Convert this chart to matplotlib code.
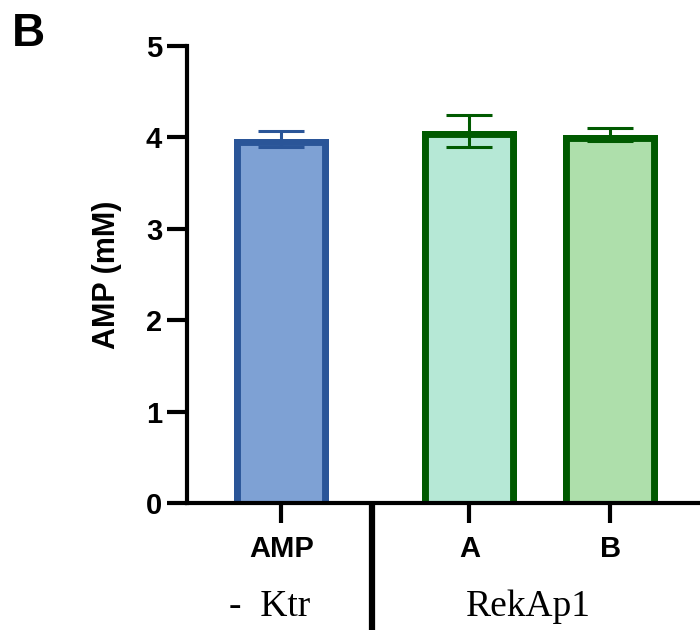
import matplotlib
matplotlib.use("Agg")
import matplotlib.pyplot as plt
import matplotlib.patches as mpatches
import matplotlib.transforms as mtransforms

# data
labels = ["AMP", "A", "B"]
means = [3.98, 4.07, 4.03]
errs = [0.09, 0.18, 0.07]
groups = ["-  Ktr", "RekAp1"]

# styling
positions = [1.07, 3.21, 4.81]
fills = ["#7ea1d4", "#b6e8d6", "#aedfab"]
edges = ["#2a5598", "#005a00", "#005a00"]
bar_w = 1.08

plt.rcParams['font.family'] = ['Liberation Sans', 'DejaVu Sans']
plt.rcParams['font.weight'] = 'bold'

fig = plt.figure(figsize=(7, 6.3), dpi=100)
ax = fig.add_axes([187/700, 1 - 503/630, 1 - 187/700, 457/630])

for x, m, e, fc, ec in zip(positions, means, errs, fills, edges):
    # border drawn inside the bar, bottom edge hidden under the axis
    bars = ax.bar(x, m + 0.2, bottom=-0.2, width=bar_w, color=fc,
                  edgecolor=ec, linewidth=10, zorder=2)
    clip = mpatches.Rectangle((x - bar_w / 2, 0), bar_w, m,
                              transform=ax.transData)
    for p in bars:
        p.set_clip_path(clip)
    ax.errorbar(x, m, yerr=e, fmt='none', ecolor=ec, elinewidth=2.2,
                capsize=16.8, capthick=2.2, zorder=3)

ax.set_xlim(0, 513/88)
ax.set_ylim(0, 5)
ax.set_yticks([0, 1, 2, 3, 4, 5])
ax.set_xticks(positions)
ax.set_xticklabels(labels, fontsize=21, fontweight='bold')
for t in ax.get_yticklabels():
    t.set_fontsize(21)
    t.set_fontweight('bold')

for s in ['top', 'right']:
    ax.spines[s].set_visible(False)
for s in ['left', 'bottom']:
    ax.spines[s].set_linewidth(3)
ax.tick_params(axis='y', length=14.4, width=3, pad=3.5)
ax.tick_params(axis='x', length=14.4, width=3, pad=8.5)

ax.set_ylabel("AMP (mM)", fontsize=22, fontweight='bold')
ax.yaxis.set_label_coords(-0.127, 0.5)

# group labels under the ticks and the separator line
trans = mtransforms.blended_transform_factory(ax.transData, ax.transAxes)
ax.text(0.94, -0.228, groups[0], transform=trans, ha='center', va='center',
        fontsize=27, family=['Liberation Serif'], fontweight='normal')
ax.text(3.88, -0.228, groups[1], transform=trans, ha='center', va='center',
        fontsize=27, family=['Liberation Serif'], fontweight='normal')
ax.plot([2.10, 2.10], [0, -0.3], transform=trans, color='black',
        linewidth=4.5, clip_on=False, solid_capstyle='butt')

fig.text(12/700, 1 - 12/630, "B", fontsize=33, fontweight='bold',
         ha='left', va='top')

fig.savefig("out.png", dpi=100)
